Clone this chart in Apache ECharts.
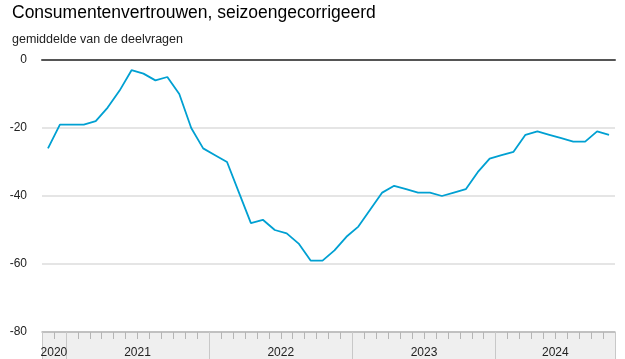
<!DOCTYPE html>
<html>
<head>
<meta charset="utf-8">
<script src="https://cdn.jsdelivr.net/npm/echarts@6/dist/echarts.min.js"></script>
<style>html,body{margin:0;padding:0;background:#fff}#c{width:625px;height:359px}</style>
</head>
<body>
<div id="c"></div>
<script>
// Months: Nov 2020 .. Oct 2024
const months = [
  '2020-11','2020-12',
  '2021-01','2021-02','2021-03','2021-04','2021-05','2021-06','2021-07','2021-08','2021-09','2021-10','2021-11','2021-12',
  '2022-01','2022-02','2022-03','2022-04','2022-05','2022-06','2022-07','2022-08','2022-09','2022-10','2022-11','2022-12',
  '2023-01','2023-02','2023-03','2023-04','2023-05','2023-06','2023-07','2023-08','2023-09','2023-10','2023-11','2023-12',
  '2024-01','2024-02','2024-03','2024-04','2024-05','2024-06','2024-07','2024-08','2024-09','2024-10'
];
const confidence = [
  -26,-19,
  -19,-19,-18,-14,-9,-3,-4,-6,-5,-10,-20,-26,
  -28,-30,-39,-48,-47,-50,-51,-54,-59,-59,-56,-52,
  -49,-44,-39,-37,-38,-39,-39,-40,-39,-38,-33,-29,
  -28,-27,-22,-21,-22,-23,-24,-24,-21,-22
];
const yearLabels = ['2020','2021','2022','2023','2024'];
const yTicks = [-80,-60,-40,-20,0];

const font = 'Liberation Sans, Arial, Helvetica, sans-serif';

// position of each year label = middle of that year's months (in month units)
const yearMid = {};
yearLabels.forEach(function(y){
  let first = -1, last = -1;
  months.forEach(function(m, i){ if (m.slice(0,4) === y) { if (first < 0) first = i; last = i; } });
  yearMid[(first + last + 1) / 2] = y;
});

const chart = echarts.init(document.getElementById('c'), null, {renderer: 'canvas'});
chart.setOption({
  animation: false,
  backgroundColor: '#ffffff',
  title: [
    {text: 'Consumentenvertrouwen, seizoengecorrigeerd', left: 7, top: -1,
     textStyle: {fontSize: 17.5, fontWeight: 'normal', color: '#000', fontFamily: font}},
    {text: 'gemiddelde van de deelvragen', left: 7, top: 28,
     textStyle: {fontSize: 12.5, fontWeight: 'normal', color: '#222', fontFamily: font}}
  ],
  graphic: [
    {type: 'rect', left: 42, top: 332, z: -1, shape: {width: 573, height: 27}, style: {fill: '#efefef'}}
  ],
  grid: {left: 42, right: 10, top: 60, bottom: 27, containLabel: false},
  xAxis: [
    {type: 'category', data: months, position: 'bottom', boundaryGap: true,
     axisLine: {show: true, onZero: false, lineStyle: {color: '#b5b5b5', width: 1.5}},
     axisTick: {show: true, interval: 0, length: 7, lineStyle: {color: '#b5b5b5', width: 1}},
     axisLabel: {show: false}, splitLine: {show: false}},
    {type: 'category', data: months, position: 'bottom', boundaryGap: true,
     axisLine: {show: false, onZero: false},
     axisTick: {show: true, length: 27, lineStyle: {color: '#c8c8c8', width: 1},
       interval: function(i){ return i === 0 || months[i].slice(5) === '01'; }},
     axisLabel: {show: false}, splitLine: {show: false}},
    {type: 'value', min: 0, max: months.length, interval: 1, position: 'bottom',
     axisLine: {show: false, onZero: false}, axisTick: {show: false}, splitLine: {show: false},
     axisLabel: {show: true, margin: 15, fontSize: 12, color: '#222', fontFamily: font,
       showMinLabel: true, showMaxLabel: true,
       formatter: function(v){ return yearMid[v] || ''; }}},
    {type: 'category', data: months, position: 'top',
     axisLine: {show: true, onZero: false, lineStyle: {color: '#555', width: 2}},
     axisTick: {show: false}, axisLabel: {show: false}, splitLine: {show: false}}
  ],
  yAxis: {
    type: 'value', min: yTicks[0], max: yTicks[yTicks.length-1], interval: 20,
    axisLine: {show: false}, axisTick: {show: false},
    axisLabel: {margin: 15, fontSize: 12, color: '#222', fontFamily: font},
    splitLine: {show: true, lineStyle: {color: '#dcdcdc', width: 1.5}}
  },
  series: [{
    type: 'line', xAxisIndex: 0, yAxisIndex: 0, data: confidence,
    symbol: 'none', lineStyle: {color: '#00a0d2', width: 1.8}, itemStyle: {color: '#00a0d2'}
  }]
});
</script>
</body>
</html>
